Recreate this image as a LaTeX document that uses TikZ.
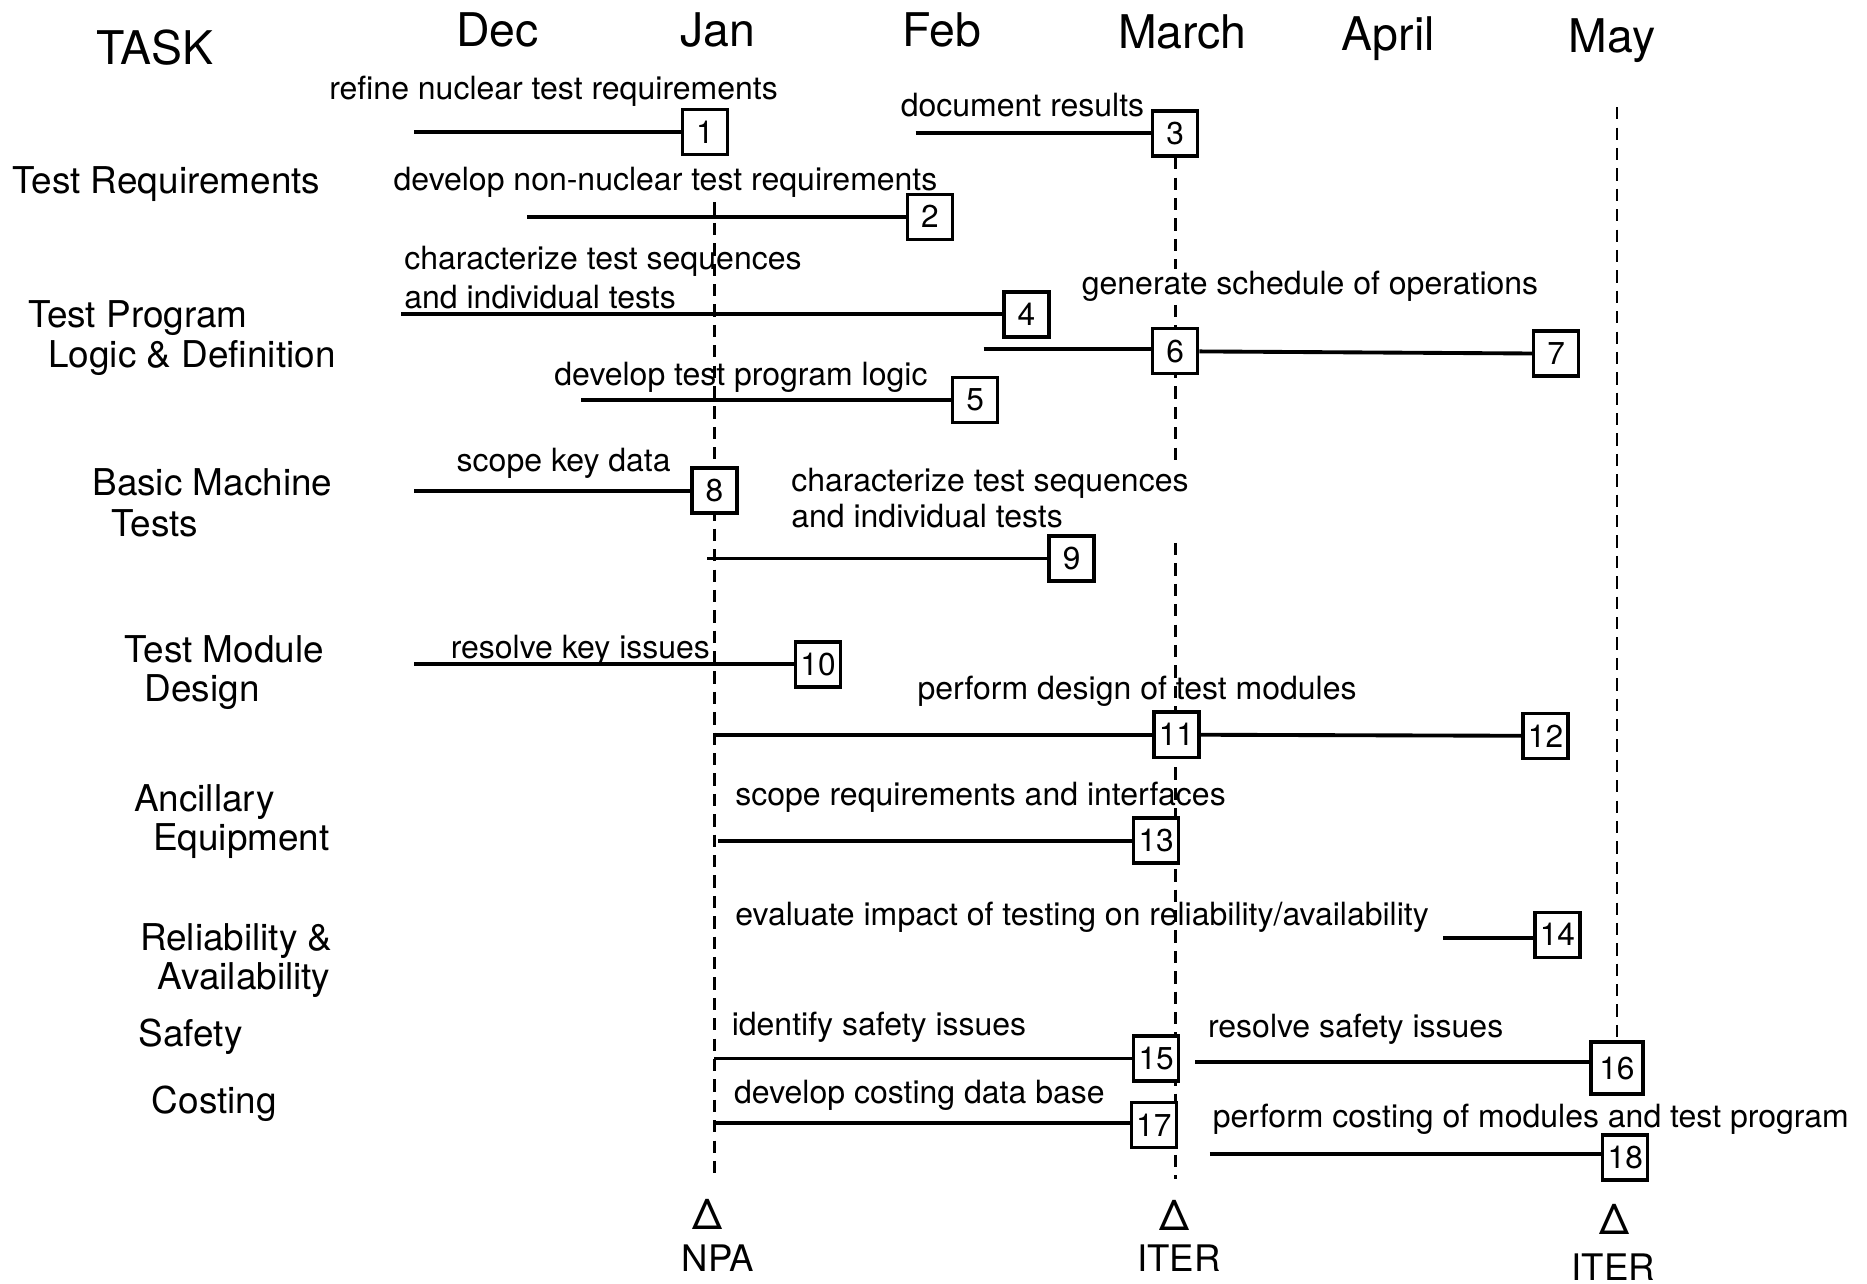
\documentclass[tikz,border=0pt]{standalone}
\usepackage{fontspec}
\setmainfont{TeX Gyre Heros}
\newcommand\monthfont{\fontsize{13.2}{16}\selectfont}
\newcommand\taskfont{\fontsize{10.5}{12}\selectfont}
\newcommand\actfont{\fontsize{9.1}{11}\selectfont}
\newcommand\numfont{\fontsize{9}{10}\selectfont}
\newcommand\markfont{\fontsize{10.4}{12}\selectfont}
\newcommand\deltafont{\fontsize{12}{14}\selectfont}
\tikzset{numbox/.style={draw, fill=white, line width=0.95pt, minimum size=0.45cm, inner sep=0pt, font=\numfont},
	bar/.style={line width=1.1pt},
	milestone/.style={line width=0.75pt, dash pattern=on 3.5pt off 2.3pt},
	act/.style={anchor=west, inner sep=0pt, text height=6.55pt, text depth=0pt, font=\actfont},
	task/.style={anchor=west, inner sep=0pt, text height=7.6pt, text depth=0pt, font=\taskfont},
	month/.style={inner sep=0pt, text height=9.5pt, text depth=0pt, font=\monthfont},
	milelabel/.style={inner sep=0pt, text height=7.5pt, text depth=0pt, font=\markfont},
	miletri/.style={inner sep=0pt, text height=8.6pt, text depth=0pt, font=\deltafont}}

\begin{document}
\begin{tikzpicture}[x=0.011907cm, y=-0.011907cm]
		\useasboundingbox (0,0) rectangle (1568,1078);
		
		\node[month] (task) at (130,40) {TASK};
		\node[month] (dec) at (418,25) {Dec};
		\node[month] (jan) at (603,25) {Jan};
		\node[month] (feb) at (791,25) {Feb};
		\node[month] (mar) at (993,27) {March};
		\node[month] (apr) at (1166,28) {April};
		\node[month] (may) at (1354,30) {May};
		
		% milestone lines
		\coordinate (npa top) at (600,170);
		\coordinate (npa end) at (600,990);
		\coordinate (iter a) at (987,132);
		\coordinate (iter b) at (987,226);
		\coordinate (iter c) at (987,256);
		\coordinate (iter d) at (987,393);
		\coordinate (iter e) at (987,456);
		\coordinate (iter f) at (987,990);
		\coordinate (may top) at (1358,90);
		\coordinate (may end) at (1358,875);
		\draw[milestone] (npa top) -- (npa end);
		\draw[milestone] (iter a) -- (iter b);
		\draw[milestone] (iter c) -- (iter d);
		\draw[milestone] (iter e) -- (iter f);
		\draw[milestone] (may top) -- (may end);
		
		\node[task] (t1) at (10,151) {Test Requirements};
		\node[task] (t2) at (23,264) {Test Program};
		\node[task] (t2x) at (40,297) {Logic \& Definition};
		\node[task] (t3) at (77,405) {Basic Machine};
		\node[task] (t3x) at (93,439) {Tests};
		\node[task] (t4) at (104,545) {Test Module};
		\node[task] (t4x) at (121,578) {Design};
		\node[task] (t5) at (112,670) {Ancillary};
		\node[task] (t5x) at (128,703) {Equipment};
		\node[task] (t6) at (117,787) {Reliability \&};
		\node[task] (t6x) at (132,820) {Availability};
		\node[task] (t7) at (116,868) {Safety};
		\node[task] (t8) at (127,924) {Costing};
		
		\coordinate (s1) at (348,111);
		\coordinate (s2) at (443,182);
		\coordinate (s3) at (769,112);
		\coordinate (s4) at (337,264);
		\coordinate (s5) at (488,336);
		\coordinate (s6) at (826,293);
		\coordinate (s8) at (348,412);
		\coordinate (s9) at (594,469);
		\coordinate (s10) at (348,558);
		\coordinate (s11) at (600,617);
		\coordinate (s13) at (603,706);
		\coordinate (s14) at (1212,788);
		\coordinate (s15) at (600,889);
		\coordinate (s16) at (1004,892);
		\coordinate (s17) at (600,943);
		\coordinate (s18) at (1016,969);
		
		\node[numbox] (b1) at (592,111) {1};
		\node[numbox] (b2) at (781,182) {2};
		\node[numbox] (b3) at (987,112) {3};
		\node[numbox] (b4) at (862,264) {4};
		\node[numbox] (b5) at (819,336) {5};
		\node[numbox] (b6) at (987,295) {6};
		\node[numbox] (b7) at (1307,297) {7};
		\node[numbox] (b8) at (600,412) {8};
		\node[numbox] (b9) at (900,469) {9};
		\node[numbox] (b10) at (687,558) {10};
		\node[numbox] (b11) at (988,617) {11};
		\node[numbox] (b12) at (1298,618) {12};
		\node[numbox] (b13) at (971,706) {13};
		\node[numbox] (b14) at (1308,785) {14};
		\node[numbox] (b15) at (971,889) {15};
		\node[numbox, minimum size=0.52cm] (b16) at (1358,897) {16};
		\node[numbox] (b17) at (969,945) {17};
		\node[numbox] (b18) at (1365,972) {18};
		
		\foreach \n in {1,2,3,4,5,6,8,9,10,11,13,14,15,16,17,18}
			\draw[bar] (s\n) -- (s\n -| b\n.west);
		\draw[bar] (b6) -- (b7);
		\draw[bar] (b11) -- (b12);
		
		\node[act] (l1) at (276,74) {refine nuclear test requirements};
		\node[act] (l2) at (330,150) {develop non-nuclear test requirements};
		\node[act] (l3) at (756,88) {document results};
		\node[act] (l4) at (339,217) {characterize test sequences};
		\node[act] (l4x) at (339,249) {and individual tests};
		\node[act] (l5) at (465,314) {develop test program logic};
		\node[act] (l6) at (908,238) {generate schedule of operations};
		\node[act] (l8) at (383,386) {scope key data};
		\node[act] (l9) at (664,403) {characterize test sequences};
		\node[act] (l9x) at (664,433) {and individual tests};
		\node[act] (l10) at (378,543) {resolve key issues};
		\node[act] (l11) at (770,578) {perform design of test modules};
		\node[act] (l13) at (617,667) {scope requirements and interfaces};
		\node[act] (l14) at (617,768) {evaluate impact of testing on reliability/availability};
		\node[act] (l15) at (614,860) {identify safety issues};
		\node[act] (l16) at (1014,862) {resolve safety issues};
		\node[act] (l17) at (616,917) {develop costing data base};
		\node[act] (l18) at (1018,937) {perform costing of modules and test program};
		
		\node[miletri] (d1) at (594,1020) {Δ};
		\node[milelabel] (npa) at (603,1057) {NPA};
		\node[miletri] (d2) at (986,1021) {Δ};
		\node[milelabel] (iter1) at (990,1057) {ITER};
		\node[miletri] (d3) at (1356,1024) {Δ};
		\node[milelabel] (iter2) at (1355,1064) {ITER};
\end{tikzpicture}
\end{document}
